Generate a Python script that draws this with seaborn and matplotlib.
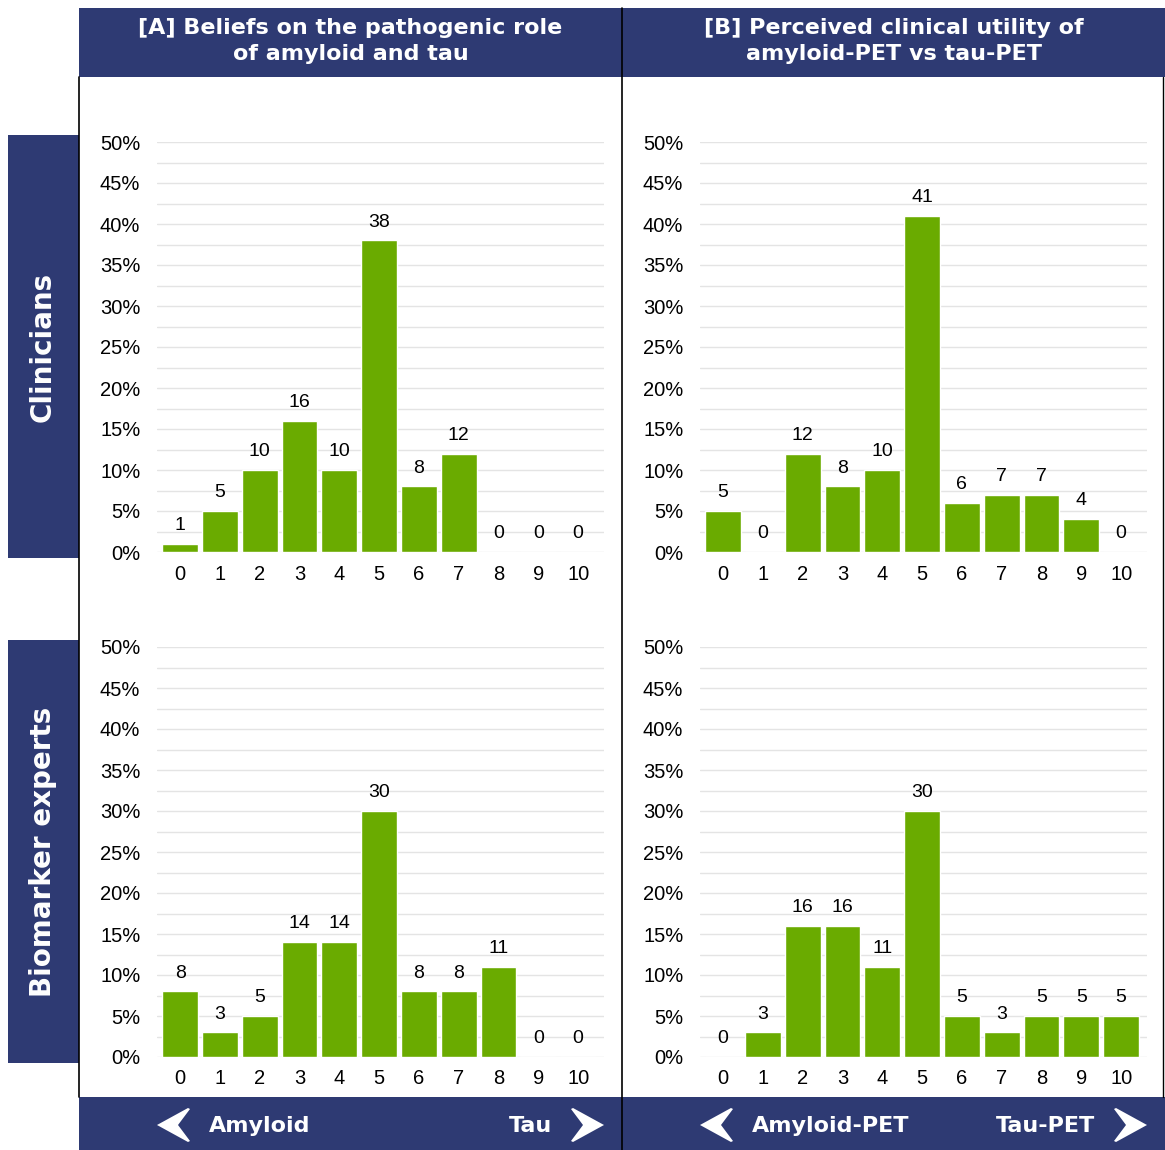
import numpy as np
import pandas as pd
import matplotlib
matplotlib.use("Agg")
import matplotlib.pyplot as plt
from matplotlib.patches import Rectangle, Polygon
import seaborn as sns

# scale positions 0..10
scale = [str(i) for i in range(11)]

# percentages of respondents per scale point
clin_beliefs = [1, 5, 10, 16, 10, 38, 8, 12, 0, 0, 0]
clin_utility = [5, 0, 12, 8, 10, 41, 6, 7, 7, 4, 0]
expert_beliefs = [8, 3, 5, 14, 14, 30, 8, 8, 11, 0, 0]
expert_utility = [0, 3, 16, 16, 11, 30, 5, 3, 5, 5, 5]

col_titles = ["[A] Beliefs on the pathogenic role\nof amyloid and tau",
              "[B] Perceived clinical utility of\namyloid-PET vs tau-PET"]
row_titles = ["Clinicians", "Biomarker experts"]
axis_ends = [("Amyloid", "Tau"), ("Amyloid-PET", "Tau-PET")]

GREEN = "#6aab00"
NAVY = "#2e3a73"
W, H = 1165, 1150

sns.set_theme(style="white")
plt.rcParams["font.family"] = ["DejaVu Sans"]
plt.rcParams["text.color"] = "black"
plt.rcParams["xtick.color"] = "black"
plt.rcParams["ytick.color"] = "black"

fig = plt.figure(figsize=(W / 100, H / 100), dpi=100)

# background layer in pixel coordinates for the frame, banners and arrows
bg = fig.add_axes([0, 0, 1, 1])
bg.set_xlim(0, W)
bg.set_ylim(H, 0)
bg.axis("off")


def chevron(tip_x, cy, direction):
    # direction -1 points left, +1 points right
    pts = [(0, 0), (31, -17), (33, -16), (21, 0), (33, 16), (31, 17)]
    return Polygon([(tip_x - direction * dx, cy + dy) for dx, dy in pts],
                   closed=True, color="white", lw=0)


for i, title in enumerate(col_titles):
    x0 = 79 + i * 543
    # header banner
    bg.add_patch(Rectangle((x0, 8), 543, 69, color=NAVY, lw=0))
    bg.text(x0 + 271.5, 41, title, ha="center", va="center", color="white",
            fontsize=16, fontweight="bold", linespacing=1.42)
    # bottom banner with arrows
    bg.add_patch(Rectangle((x0, 1097), 543, 53, color=NAVY, lw=0))
    lx = x0 + 78
    rx = x0 + 525
    bg.add_patch(chevron(lx, 1125, -1))
    bg.add_patch(chevron(rx, 1125, 1))
    bg.text(lx + 52, 1126, axis_ends[i][0], ha="left", va="center", color="white",
            fontsize=16, fontweight="bold")
    bg.text(rx - 52, 1126, axis_ends[i][1], ha="right", va="center", color="white",
            fontsize=16, fontweight="bold")

# side banners
for j, title in enumerate(row_titles):
    y0 = 135 + j * 505
    bg.add_patch(Rectangle((8, y0), 71, 423, color=NAVY, lw=0))
    bg.text(43, y0 + 211.5, title, ha="center", va="center", color="white",
            fontsize=20, fontweight="bold", rotation=90)

# frame lines
bg.plot([79, 79], [77, 1097], color="black", lw=1.2)
bg.plot([622, 622], [8, 1150], color="black", lw=1.2)
bg.plot([1163, 1163], [77, 1097], color="black", lw=1.0)

panels = [
    (clin_beliefs, 157, 552),
    (clin_utility, 700, 552),
    (expert_beliefs, 157, 1057),
    (expert_utility, 700, 1057),
]

for values, px, py in panels:
    ax = fig.add_axes([px / W, 1 - py / H, 447 / W, 410 / H])
    df = pd.DataFrame({"scale": scale, "pct": values})
    sns.barplot(data=df, x="scale", y="pct", order=scale, color=GREEN,
                saturation=1, width=0.9, ax=ax)
    ax.set_xlim(-0.58, 10.65)
    ax.set_ylim(0, 50)
    for g in np.arange(0, 50.1, 2.5):
        ax.axhline(g, color="#e4e4e4", lw=1, zorder=0)
    ax.set_yticks(np.arange(0, 51, 5))
    ax.set_yticklabels([f"{t}%" for t in range(0, 51, 5)],
                       fontfamily="Liberation Sans", fontsize=14.5)
    ax.set_xticks(range(11))
    ax.set_xticklabels(scale, fontfamily="Liberation Sans", fontsize=14.5)
    ax.tick_params(axis="y", length=0, pad=12)
    ax.tick_params(axis="x", length=0, pad=9)
    ax.set_xlabel("")
    ax.set_ylabel("")
    ax.set_facecolor("none")
    for s in ax.spines.values():
        s.set_visible(False)
    ax.bar_label(ax.containers[0], labels=[str(v) for v in values], padding=7,
                 fontfamily="Liberation Sans", fontsize=14, color="black")

fig.savefig("out.png", dpi=100, facecolor="white")
